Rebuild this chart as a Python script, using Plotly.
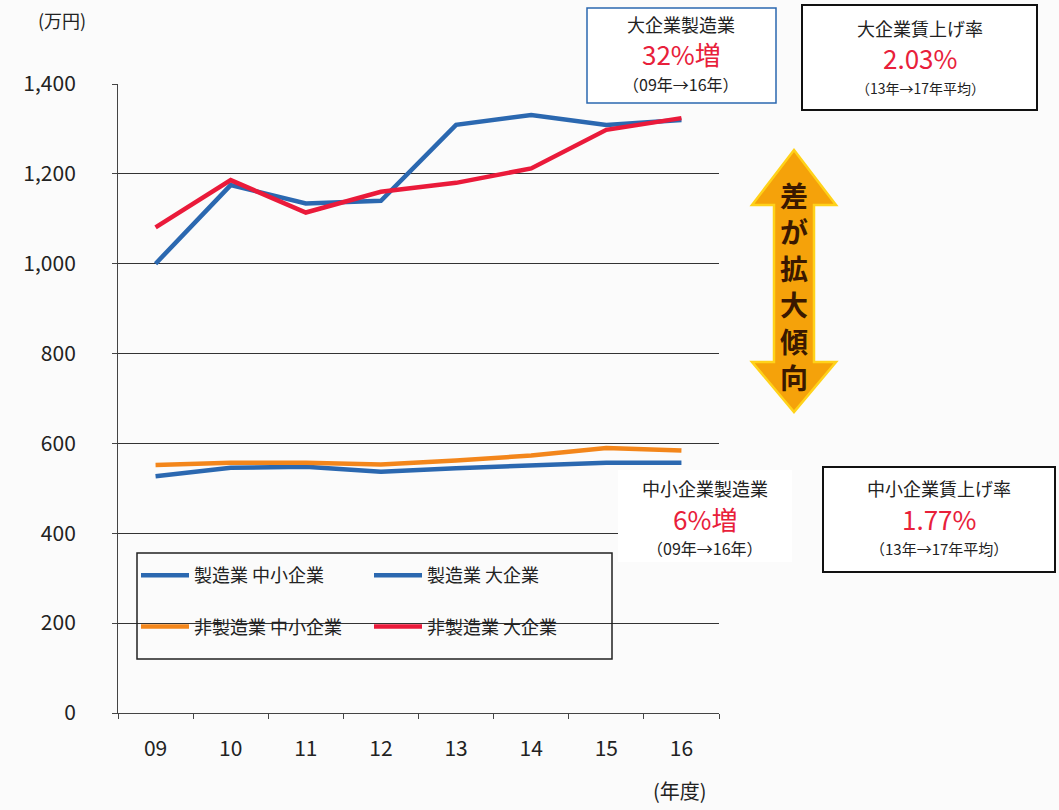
import plotly.graph_objects as go

years = ["09", "10", "11", "12", "13", "14", "15", "16"]
mfg_small = [527, 546, 548, 537, 545, 551, 557, 557]
mfg_large = [1000, 1175, 1134, 1140, 1309, 1331, 1309, 1320]
nonmfg_small = [552, 557, 557, 553, 562, 573, 590, 584]
nonmfg_large = [1081, 1186, 1114, 1160, 1180, 1212, 1298, 1324]
y_ticks = [0, 200, 400, 600, 800, 1000, 1200, 1400]
y_tick_labels = ["0", "200", "400", "600", "800", "1,000", "1,200", "1,400"]

BLUE = "#2b68b0"
RED = "#ea1a3a"
ORANGE = "#f3861b"
FONT = "Noto Sans CJK JP"

W, H = 1059, 810
L, R, T, B = 118, 719, 84, 713


def px(x):
    return (x - L) / (R - L)


def py(y):
    return (B - y) / (B - T)


fig = go.Figure()
fig.add_trace(go.Scatter(x=years, y=mfg_small, name="製造業 中小企業", mode="lines",
                         line=dict(color=BLUE, width=4.5), legend="legend", legendgroup="a"))
fig.add_trace(go.Scatter(x=years, y=nonmfg_small, name="非製造業 中小企業", mode="lines",
                         line=dict(color=ORANGE, width=4.5), legend="legend", legendgroup="b"))
fig.add_trace(go.Scatter(x=years, y=mfg_large, name="製造業 大企業", mode="lines",
                         line=dict(color=BLUE, width=4.5), legend="legend2", legendgroup="c"))
fig.add_trace(go.Scatter(x=years, y=nonmfg_large, name="非製造業 大企業", mode="lines",
                         line=dict(color=RED, width=4.5), legend="legend2", legendgroup="d"))

legend_common = dict(
    orientation="v", bgcolor="rgba(0,0,0,0)", borderwidth=0,
    font=dict(family=FONT, size=18, color="#222"),
    tracegroupgap=25, xanchor="left", yanchor="top",
    yref="paper", xref="paper", itemwidth=48,
)
fig.update_layout(
    legend=dict(x=px(136), y=py(557), **legend_common),
    legend2=dict(x=px(369), y=py(557), **legend_common),
)


def rect(x0, y0, x1, y1, color, width, fill="rgba(0,0,0,0)"):
    return dict(type="rect", xref="paper", yref="paper", x0=px(x0), x1=px(x1),
                y0=py(y1), y1=py(y0), line=dict(color=color, width=width),
                fillcolor=fill, layer="above")


shapes = [
    rect(137, 553, 612, 659, "#222", 1.5),
    rect(587, 8, 776, 103, BLUE, 1.5, "white"),
    rect(802, 5, 1037, 110, "#111", 2, "white"),
    rect(618, 470, 792, 562, "rgba(0,0,0,0)", 0, "white"),
    rect(823, 467, 1055, 572, "#111", 2, "white"),
]

cx = 794
hw, sw = 42, 20
ytop, yhb1, yhb2, ybot = 150, 205, 362, 412
pts = [(cx, ytop), (cx + hw, yhb1), (cx + sw, yhb1), (cx + sw, yhb2), (cx + hw, yhb2),
       (cx, ybot), (cx - hw, yhb2), (cx - sw, yhb2), (cx - sw, yhb1), (cx - hw, yhb1)]
path = "M " + " L ".join(f"{px(a):.5f},{py(b):.5f}" for a, b in pts) + " Z"
shapes.append(dict(type="path", xref="paper", yref="paper", path=path,
                   fillcolor="#f5a20a", line=dict(color="#ffd21a", width=2.5)))
fig.update_layout(shapes=shapes)


def label(text, x, y, size, color="#222"):
    return dict(xref="paper", yref="paper", x=px(x), y=py(y), xanchor="center", yanchor="middle",
                showarrow=False, text=text, font=dict(family=FONT, size=size, color=color))


RED_TXT = "#e8203a"
annotations = [
    label("大企業製造業", 681, 24, 18),
    label("32%増", 681, 53, 26, RED_TXT),
    label("（09年→16年）", 681, 84, 16),
    label("大企業賃上げ率", 920, 28, 18),
    label("2.03%", 920, 58, 26, RED_TXT),
    label("（13年→17年平均）", 920, 88, 14),
    label("中小企業製造業", 705, 488, 18),
    label("6%増", 705, 518, 26, RED_TXT),
    label("（09年→16年）", 705, 548, 16),
    label("中小企業賃上げ率", 939, 488, 18),
    label("1.77%", 939, 518, 26, RED_TXT),
    label("（13年→17年平均）", 939, 548, 15),
    dict(xref="paper", yref="paper", x=px(794), y=py(286), xanchor="center", yanchor="middle",
         showarrow=False, text="<b>差<br>が<br>拡<br>大<br>傾<br>向</b>",
         font=dict(family=FONT, size=28, color="#3a1800")),
    label("(万円)", 62, 20, 18),
    label("(年度)", 680, 790, 20),
]
fig.update_layout(annotations=annotations)

fig.update_xaxes(
    type="category", range=[-0.5, 7.5], showgrid=False,
    showline=True, linecolor="#444", linewidth=1,
    ticks="outside", tickson="boundaries", ticklen=5, tickcolor="#444",
    tickfont=dict(family=FONT, size=21, color="#222"), ticklabelstandoff=17,
    zeroline=False,
)
fig.update_yaxes(
    range=[0, 1400], tickvals=y_ticks, ticktext=y_tick_labels,
    showgrid=True, gridcolor="#333", gridwidth=1,
    showline=True, linecolor="#444", linewidth=1,
    ticks="outside", ticklen=5, tickcolor="#444",
    tickfont=dict(family=FONT, size=21, color="#222"), ticklabelstandoff=32,
    zeroline=False,
)

fig.update_layout(
    width=W, height=H,
    margin=dict(l=L, r=W - R, t=T, b=H - B, pad=0),
    paper_bgcolor="#fbfbfb", plot_bgcolor="#fbfbfb",
    font=dict(family=FONT),
)

fig.write_html("out.html", config={"displayModeBar": False},
               post_script="document.body.style.margin='0';")
